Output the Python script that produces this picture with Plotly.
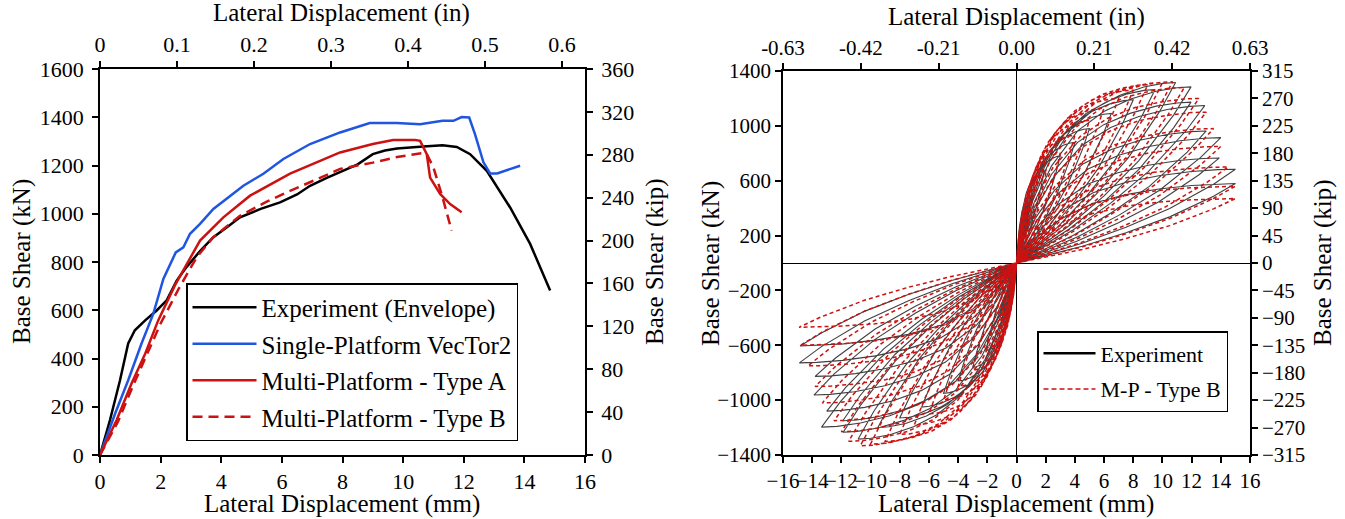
import plotly.graph_objects as go

# ---------------- Left chart: envelopes (mm, kN) ----------------
exp_env_x = [0, 0.33, 0.66, 0.93, 1.15, 1.49, 1.87, 2.2, 2.53, 2.86, 3.3, 3.73, 4.2, 4.62, 5.3, 5.94,
             6.5, 6.93, 7.5, 8.0, 8.5, 9.0, 9.4, 9.8, 10.3, 10.67, 11.3, 11.77, 12.21, 12.76, 13.53,
             14.19, 14.85]
exp_env_y = [0, 145, 310, 462, 517, 558, 599, 641, 723, 780, 845, 902, 945, 985, 1020, 1047,
             1080, 1116, 1150, 1178, 1205, 1247, 1262, 1270, 1276, 1279, 1284, 1277, 1247, 1178, 1026,
             875, 682]

sp_x = [0, 0.5, 0.93, 1.37, 1.76, 2.09, 2.5, 2.75, 2.97, 3.3, 3.74, 4.18, 4.73, 5.39, 6.05, 6.93,
        7.92, 8.9, 9.79, 10.56, 11.3, 11.66, 11.93, 12.18, 12.37, 12.65, 12.87, 13.1, 13.86]
sp_y = [0, 172, 310, 462, 586, 730, 840, 861, 917, 958, 1020, 1061, 1116, 1166, 1227, 1289,
        1337, 1376, 1376, 1371, 1385, 1385, 1401, 1399, 1330, 1213, 1167, 1167, 1199]

mpa_x = [0, 0.55, 1.04, 1.49, 1.92, 2.47, 3.3, 4.07, 4.95, 6.27, 7.92, 9.0, 9.67, 10.4, 10.56,
         10.78, 10.89, 11.22, 11.55, 11.93]
mpa_y = [0, 145, 296, 420, 558, 703, 889, 985, 1075, 1166, 1254, 1289, 1306, 1306, 1302,
         1247, 1150, 1082, 1040, 1006]

mpb_x = [0, 0.6, 1.1, 1.6, 2.0, 2.6, 3.19, 3.73, 4.62, 5.5, 6.27, 7.1, 7.92, 9.0, 9.8, 10.67,
         10.77, 11.0, 11.3, 11.6]
mpb_y = [0, 140, 290, 430, 545, 690, 820, 902, 992, 1050, 1095, 1140, 1186, 1212, 1235, 1252,
         1250, 1192, 1068, 930]

# ---------------- Right chart: cyclic peaks (mm, kN) ----------------
exp_pos_d = [0.3, 0.6, 1.0, 1.9, 3.0, 4.0, 5.0, 6.5, 8.0, 9.5, 10.9, 11.96, 11.96, 12.9, 13.0, 14.0, 13.9, 15.0, 15.0]
exp_pos_f = [120, 280, 480, 679, 780, 880, 980, 1090, 1190, 1265, 1316, 1284, 1173, 1148, 963, 914, 766, 684, 580]
exp_neg_d = [-0.3, -0.6, -1.0, -2.1, -3.0, -4.0, -5.0, -6.5, -8.0, -9.5, -10.85, -11.87, -11.9, -13.36, -13.0, -13.88, -13.8, -14.88, -14.83]
exp_neg_f = [-100, -250, -420, -640, -760, -860, -950, -1050, -1130, -1200, -1284, -1234, -1150, -1197, -1080, -963, -827, -728, -605]

mp_pos_d = [0.5, 1.0, 2.0, 3.0, 4.0, 5.0, 6.0, 7.0, 8.0, 9.0, 10.0, 10.7, 11.5, 12.5, 13.0, 13.5, 14.0, 14.5, 15.0, 15.0]
mp_pos_f = [200, 400, 650, 800, 930, 1040, 1130, 1200, 1260, 1300, 1315, 1321, 1280, 1200, 1100, 980, 850, 700, 560, 470]
mp_neg_d = [-0.5, -1.0, -2.0, -3.0, -4.0, -5.0, -6.0, -7.0, -8.0, -9.0, -10.0, -10.7, -11.5, -12.0, -12.5, -13.3, -13.8, -14.3, -14.8, -14.9]
mp_neg_f = [-200, -380, -620, -780, -900, -1000, -1100, -1180, -1250, -1300, -1320, -1333, -1300, -1230, -1150, -1020, -900, -750, -600, -469]

# loop branch shapes read from the loops (fraction of peak displacement -> fraction of peak force)
load_t = [0.0, 0.04, 0.1, 0.2, 0.35, 0.5, 0.65, 0.8, 0.92, 1.0]
exp_load_f = [0.0, 0.15, 0.34, 0.55, 0.75, 0.86, 0.93, 0.975, 0.995, 1.0]
mp_load_f = [0.0, 0.17, 0.37, 0.58, 0.77, 0.88, 0.945, 0.98, 0.997, 1.0]
unload_t = [1.0, 0.9, 0.7, 0.5, 0.3, 0.1, 0.0]
unload_f = [1.0, 0.84, 0.58, 0.38, 0.21, 0.07, 0.0]

mm_to_in = 1 / 25.4
kn_to_kip = 0.2248

def loops(pd, pf, nd, nf, lf):
    xs, ys = [], []
    for a, b, c, d in zip(pd, pf, nd, nf):
        for t, g in zip(load_t, lf):
            xs.append(a * t); ys.append(b * g)
        for t, g in zip(unload_t[1:], unload_f[1:]):
            xs.append(a * t); ys.append(b * g)
        for t, g in zip(load_t[1:], lf[1:]):
            xs.append(c * t); ys.append(d * g)
        for t, g in zip(unload_t[1:], unload_f[1:]):
            xs.append(c * t); ys.append(d * g)
    return xs, ys

W, H = 1345, 519
FONT = "'Liberation Serif', 'Times New Roman', Times, 'DejaVu Serif', serif"
BLUE = "#1f55e0"
RED = "#cc1111"

def px(x):
    return x / W

def py(y):
    return 1 - y / H

fig = go.Figure()

# left chart
fig.add_trace(go.Scatter(x=exp_env_x, y=exp_env_y, mode="lines", name="Experiment (Envelope)",
                         line=dict(color="black", width=2.5), xaxis="x", yaxis="y",
                         legend="legend", legendgroup="a"))
fig.add_trace(go.Scatter(x=sp_x, y=sp_y, mode="lines", name="Single-Platform VecTor2",
                         line=dict(color=BLUE, width=2.5), xaxis="x", yaxis="y",
                         legend="legend", legendgroup="b"))
fig.add_trace(go.Scatter(x=mpa_x, y=mpa_y, mode="lines", name="Multi-Platform - Type A",
                         line=dict(color=RED, width=2.5), xaxis="x", yaxis="y",
                         legend="legend", legendgroup="c"))
fig.add_trace(go.Scatter(x=mpb_x, y=mpb_y, mode="lines", name="Multi-Platform - Type B",
                         line=dict(color=RED, width=2.5, dash="10px,6px"), xaxis="x", yaxis="y",
                         legend="legend", legendgroup="d"))
# secondary (in / kip) axes of left chart
fig.add_trace(go.Scatter(x=[v * mm_to_in for v in exp_env_x], y=[v * kn_to_kip for v in exp_env_y],
                         mode="lines", line=dict(width=0, color="rgba(0,0,0,0)"), xaxis="x2", yaxis="y2",
                         showlegend=False, hoverinfo="skip"))

# right chart
ex, ey = loops(exp_pos_d, exp_pos_f, exp_neg_d, exp_neg_f, exp_load_f)
mx, my = loops(mp_pos_d, mp_pos_f, mp_neg_d, mp_neg_f, mp_load_f)
fig.add_trace(go.Scatter(x=ex, y=ey, mode="lines", line=dict(color="rgba(30,30,30,0.85)", width=1.1),
                         xaxis="x3", yaxis="y3", showlegend=False))
fig.add_trace(go.Scatter(x=mx, y=my, mode="lines", line=dict(color=RED, width=1.5, dash="4px,3px"),
                         xaxis="x3", yaxis="y3", showlegend=False))
fig.add_trace(go.Scatter(x=[v * mm_to_in for v in ex], y=[v * kn_to_kip for v in ey], mode="lines",
                         line=dict(width=0, color="rgba(0,0,0,0)"), xaxis="x4", yaxis="y4",
                         showlegend=False, hoverinfo="skip"))
# legend entries of right chart
fig.add_trace(go.Scatter(x=[None], y=[None], mode="lines", name="Experiment",
                         line=dict(color="black", width=2.5), xaxis="x3", yaxis="y3",
                         legend="legend2", legendgroup="e"))
fig.add_trace(go.Scatter(x=[None], y=[None], mode="lines", name="M-P - Type B",
                         line=dict(color=RED, width=1.5, dash="5px,3px"), xaxis="x3", yaxis="y3",
                         legend="legend2", legendgroup="f"))

tickfont = dict(family=FONT, size=22, color="black")
common = dict(showline=True, linecolor="black", linewidth=1.5, ticks="outside", ticklen=6,
              tickwidth=1.5, tickcolor="black", showgrid=False, zeroline=False,
              tickfont=tickfont, automargin=False, fixedrange=True, tickangle=0)
ycommon = dict(common, ticklabelstandoff=4)
rcommon = dict(common, tickfont=dict(family=FONT, size=21, color="black"))

LD = [px(100), px(585)]
LY = [py(455), py(69)]
RD = [px(783), px(1250)]
RY = [py(455), py(71)]

fig.update_layout(
    width=W, height=H, margin=dict(l=0, r=0, t=0, b=0),
    paper_bgcolor="white", plot_bgcolor="white",
    font=dict(family=FONT, color="black"),
    xaxis=dict(domain=LD, range=[0, 16], dtick=2, anchor="y", **common),
    xaxis2=dict(range=[0, 16 * mm_to_in], dtick=0.1, overlaying="x", side="top", anchor="y2", **common),
    yaxis=dict(domain=LY, range=[0, 1600], dtick=200, anchor="x", **ycommon),
    yaxis2=dict(range=[0, 360], dtick=40, overlaying="y", side="right", anchor="x2", **ycommon),
    xaxis3=dict(domain=RD, range=[-16, 16], dtick=2, anchor="y3",
                **{**rcommon, "zeroline": True, "zerolinecolor": "black", "zerolinewidth": 1.2}),
    xaxis4=dict(range=[-0.63, 0.63], tickvals=[-0.63, -0.42, -0.21, 0, 0.21, 0.42, 0.63],
                ticktext=["-0.63", "-0.42", "-0.21", "0.00", "0.21", "0.42", "0.63"],
                overlaying="x3", side="top", anchor="y4", **rcommon),
    yaxis3=dict(domain=RY, range=[-1400, 1400], tick0=200, dtick=400, anchor="x3",
                **{**rcommon, "zeroline": True, "zerolinecolor": "black", "zerolinewidth": 1.2}),
    yaxis4=dict(range=[-315, 315], dtick=45, overlaying="y3", side="right", anchor="x4", **rcommon),
    legend=dict(x=px(186), y=py(283), xanchor="left", yanchor="top",
                font=dict(family=FONT, size=25, color="black"), bgcolor="white",
                bordercolor="black", borderwidth=1.5, tracegroupgap=1, itemwidth=64,
                traceorder="grouped"),
    legend2=dict(x=px(1037), y=py(331), xanchor="left", yanchor="top",
                 font=dict(family=FONT, size=22, color="black"), bgcolor="white",
                 bordercolor="black", borderwidth=1.5, tracegroupgap=4, itemwidth=52,
                 traceorder="grouped"),
)

title_font = dict(family=FONT, size=25, color="black")
anns = [
    ("Lateral Displacement (in)", 342, 13, 0),
    ("Lateral Displacement (mm)", 342, 504, 0),
    ("Base Shear (kN)", 22, 262, -90),
    ("Base Shear (kip)", 655, 262, -90),
    ("Lateral Displacement (in)", 1016, 17, 0),
    ("Lateral Displacement (mm)", 1016, 504, 0),
    ("Base Shear (kN)", 711, 263, -90),
    ("Base Shear (kip)", 1323, 263, -90),
]
for text, x, y, ang in anns:
    fig.add_annotation(text=text, x=px(x), y=py(y), xref="paper", yref="paper",
                       xanchor="center", yanchor="middle", showarrow=False,
                       textangle=ang, font=title_font)

fig.write_html("out.html", post_script="document.body.style.margin='0px';",
               config={"displayModeBar": False})
